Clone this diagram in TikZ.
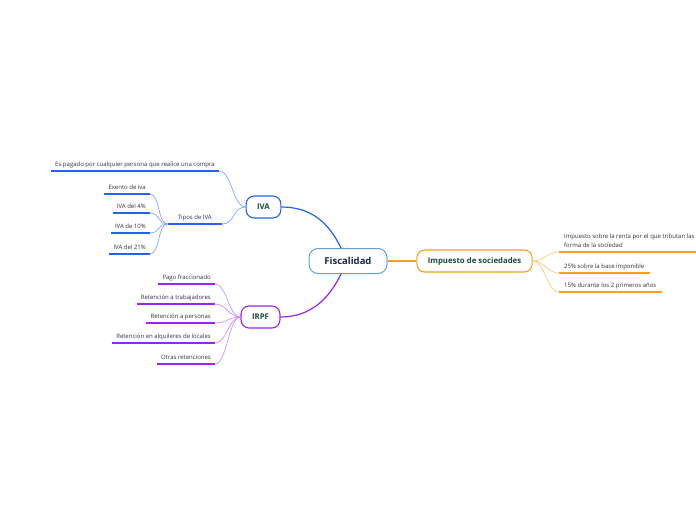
\documentclass[tikz,border=0pt]{standalone}
\usepackage{fontspec}
\setmainfont{Open Sans}
\usetikzlibrary{positioning}

\definecolor{ivablue}{HTML}{2262F0}
\definecolor{ivatwig}{HTML}{84A2FF}
\definecolor{irpfpur}{HTML}{9D22EE}
\definecolor{irpftwig}{HTML}{CD92FF}
\definecolor{socorange}{HTML}{F7A01E}
\definecolor{soctwig}{HTML}{FCCB7A}
\definecolor{rootblue}{HTML}{5FA2DA}
\definecolor{rootnavy}{HTML}{17294D}
\definecolor{topicgreen}{HTML}{1B4A3C}
\definecolor{leafgray}{HTML}{333333}

\begin{document}
\begin{tikzpicture}[x=1pt, y=-1pt,
    every node/.style={font=\fontsize{6}{9}\selectfont, text=leafgray},
    rootbox/.style={draw=rootblue, line width=1pt, rounded corners=9pt, fill=white,
      minimum width=78pt, minimum height=25pt, font=\fontsize{9.5}{11}\selectfont\bfseries, text=rootnavy},
    topic/.style={draw, line width=1.1pt, rounded corners=8pt, fill=white,
      minimum height=22pt, inner xsep=11pt, font=\fontsize{7.8}{9}\selectfont\bfseries, text=topicgreen},
    leafl/.style={anchor=south east, inner xsep=4pt, inner ysep=2.5pt, text height=4.5pt, text depth=1.5pt},
    leafr/.style={anchor=south west, inner xsep=5pt, inner ysep=2.5pt, text height=4.5pt, text depth=1.5pt},
    branch/.style={line width=1.2pt},
    twig/.style={line width=0.7pt},
    uline/.style={line width=1.8pt}
  ]
  \useasboundingbox[fill=white] (0,0) rectangle (696,520);

  % central topic and main branches
  \node[rootbox] (fis) at (348,261) {Fiscalidad};
  \node[topic, draw=ivablue] (iva) at (263.5,207) {IVA};
  \node[topic, draw=irpfpur] (irpf) at (260.5,317) {IRPF};
  \node[topic, draw=socorange] (soc) at (474.5,261) {Impuesto de sociedades};

  \draw[branch, ivablue] ([xshift=-7]fis.north) .. controls +(-12,-25) and +(30,0) .. (iva.east);
  \draw[branch, irpfpur] ([xshift=-7]fis.south) .. controls +(-12,25) and +(30,0) .. (irpf.east);
  \draw[branch, socorange] (fis.east) -- (soc.west);

  % IVA
  \node[leafl] (pag) at (219,171) {Es pagado por cualquier persona que realice una compra};
  \node[leafl, minimum width=54pt] (tip) at (222,224) {Tipos de IVA};
  \node[leafl] (exe) at (150,194) {Exento de iva};
  \node[leafl] (iv4) at (150,213) {IVA del 4\%};
  \node[leafl] (iv10) at (150,233) {IVA de 10\%};
  \node[leafl] (iv21) at (150,254) {IVA del 21\%};

  \foreach \n in {pag,tip}
    \draw[twig, ivatwig] (iva.west) .. controls +(-13,0) and +(13,0) .. (\n.south east);
  \foreach \n in {exe,iv4,iv10,iv21}
    \draw[twig, ivatwig] (tip.south west) .. controls +(-10,0) and +(10,0) .. (\n.south east);
  \foreach \n in {pag,tip,exe,iv4,iv10,iv21}
    \draw[uline, ivablue] (\n.south east) -- (\n.south west);

  % IRPF
  \node[leafl] (fra) at (215,284) {Pago fraccionado};
  \node[leafl] (tra) at (215,304) {Retención a trabajadores};
  \node[leafl] (per) at (215,323) {Retención a personas};
  \node[leafl] (alq) at (215,343) {Retención en alquileres de locales};
  \node[leafl] (otr) at (215,364) {Otras retenciones};

  \foreach \n in {fra,tra,per,alq,otr}
    \draw[twig, irpftwig] (irpf.west) .. controls +(-12,0) and +(12,0) .. (\n.south east);
  \foreach \n in {fra,tra,per,alq,otr}
    \draw[uline, irpfpur] (\n.south east) -- (\n.south west);

  % Impuesto de sociedades
  \node[leafr, align=left, text height=, text depth=, inner ysep=4pt] (ren) at (559,252)
    {Impuesto sobre la renta por el que tributan las\\forma de la sociedad};
  \node[leafr] (bas) at (559,273) {25\% sobre la base imponible};
  \node[leafr] (pri) at (559,292) {15\% durante los 2 primeros años};

  \foreach \n in {ren,bas,pri}
    \draw[twig, soctwig] (soc.east) .. controls +(12,0) and +(-12,0) .. (\n.south west);
  \foreach \n in {ren,bas,pri}
    \draw[uline, socorange] (\n.south west) -- (\n.south east);
\end{tikzpicture}
\end{document}
